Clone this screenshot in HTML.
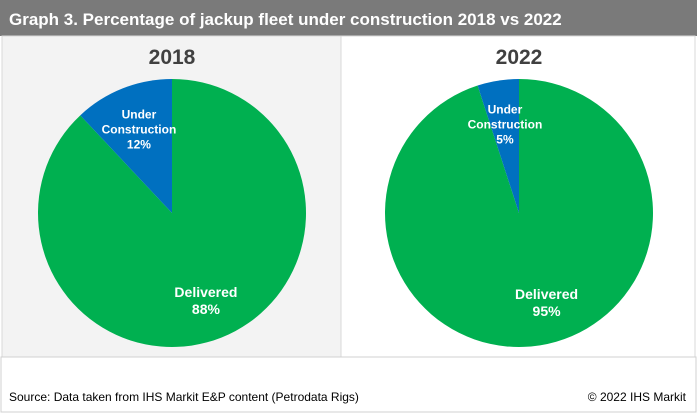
<!DOCTYPE html>
<html><head><meta charset="utf-8"><style>
body{margin:0;width:697px;height:413px;background:#fff;font-family:"Liberation Sans",Arial,sans-serif;overflow:hidden}
</style></head><body>
<svg width="697" height="413">
<rect x="0" y="0" width="697" height="36" fill="#7a7a7a"/>
<text x="9" y="25" fill="#fff" font-size="17" font-weight="bold">Graph 3. Percentage of jackup fleet under construction 2018 vs 2022</text>
<rect x="2" y="36" width="339" height="321" fill="#f3f3f3" stroke="#d8d8d8"/>
<rect x="341" y="36" width="354" height="321" fill="#fff" stroke="#d8d8d8"/>
<rect x="1" y="357" width="695" height="55" fill="#fff" stroke="#d0d0d0"/>
<text x="9" y="401" font-size="12" fill="#000">Source: Data taken from IHS Markit E&amp;P content (Petrodata Rigs)</text>
<text x="686" y="401" font-size="12" fill="#000" text-anchor="end">© 2022 IHS Markit</text>
<g id="pies"></g>
</svg>
<script>
const years=["2018","2022"];
const delivered=[88,95];
const underConstruction=[12,5];
const centersX=[172,519];
const NS="http://www.w3.org/2000/svg";
const g=document.getElementById('pies');
function pt(cx,cy,r,a){return [cx+r*Math.sin(a),cy-r*Math.cos(a)];}
function slice(cx,cy,r,a0,a1,fill,name){
  const p=document.createElementNS(NS,'path');
  const [x0,y0]=pt(cx,cy,r,a0),[x1,y1]=pt(cx,cy,r,a1);
  const large=(a1-a0)>Math.PI?1:0;
  p.setAttribute('d',`M${cx},${cy}L${x0},${y0}A${r},${r} 0 ${large} 1 ${x1},${y1}Z`);
  p.setAttribute('fill',fill);
  
  
  g.appendChild(p);
}
function txt(x,y,s,size,fill,name){
  const t=document.createElementNS(NS,'text');
  t.setAttribute('x',x);t.setAttribute('y',y);t.setAttribute('font-size',size);
  t.setAttribute('font-weight','bold');t.setAttribute('fill',fill);t.setAttribute('text-anchor','middle');
  t.textContent=s;
  
  
  g.appendChild(t);
}
years.forEach((y,i)=>{
  const cx=centersX[i],cy=213,r=134;
  const tot=delivered[i]+underConstruction[i];
  const aD=2*Math.PI*delivered[i]/tot;
  slice(cx,cy,r,0,aD,'#00b050','slice-delivered-'+y);
  slice(cx,cy,r,aD,2*Math.PI,'#0070c0','slice-under-construction-'+y);
  txt(cx,64,y,21,'#404040','year-title-'+y);
  const mid=aD+(2*Math.PI-aD)/2;
  const [lx,ly]=pt(cx,cy,r*0.67,mid);
  txt(lx,ly-11,'Under',12,'#fff','label-under-'+y);
  txt(lx,ly+4,'Construction',12,'#fff','label-construction-'+y);
  txt(lx,ly+19,underConstruction[i]+'%',12,'#fff','label-under-pct-'+y);
  const [dx,dy]=pt(cx,cy,r*0.64,aD/2+(i?-0.17:-0.03));
  txt(dx,dy+5,'Delivered',14,'#fff','label-delivered-'+y);
  txt(dx,dy+22,delivered[i]+'%',14,'#fff','label-delivered-pct-'+y);
});
</script>
</body></html>
